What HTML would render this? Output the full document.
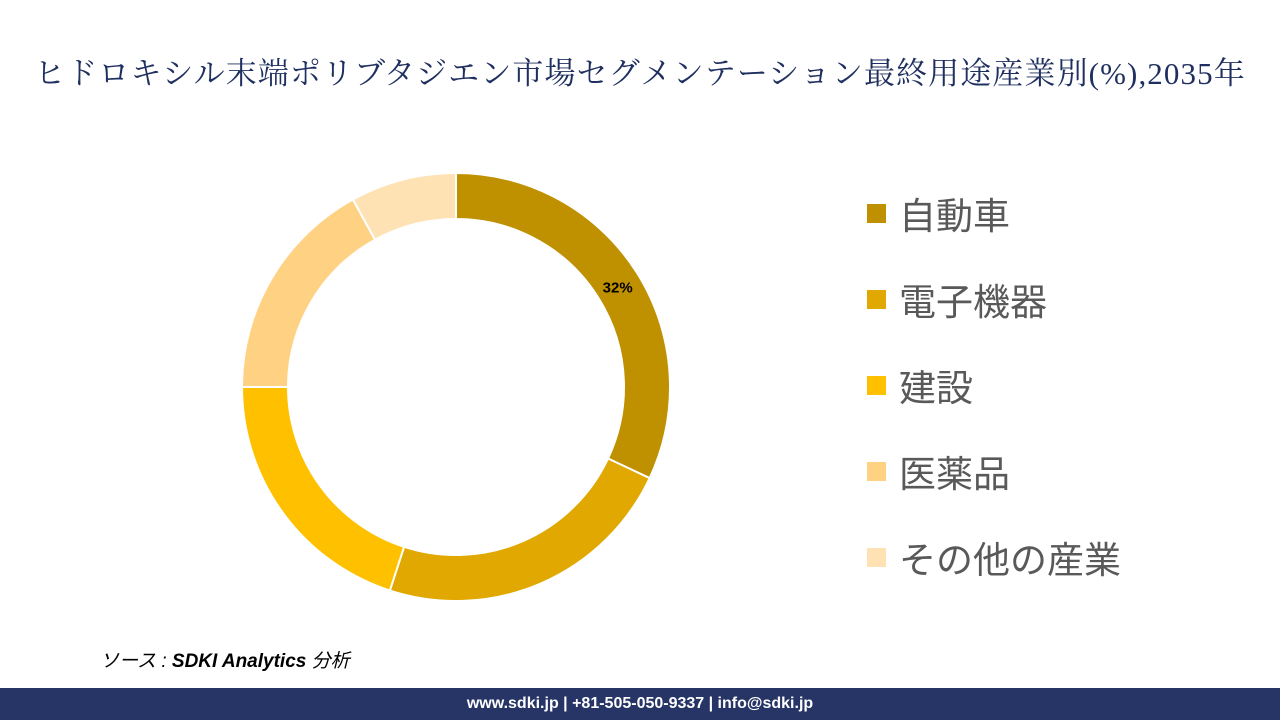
<!DOCTYPE html>
<html><head><meta charset="utf-8"><style>
body{margin:0;width:1280px;height:720px;background:#fff;position:relative;overflow:hidden;font-family:"Liberation Sans","Noto Sans CJK JP",sans-serif}
#title{position:absolute;top:48px;left:0;width:1280px;text-align:center;font-family:"Liberation Serif","Noto Serif CJK SC",serif;font-size:31px;color:#1F2F5F;letter-spacing:1.1px;white-space:nowrap}
.leg{position:absolute;left:867px;font-size:37px;color:#595959;display:flex;align-items:center}
.sw{width:19px;height:19px;margin-right:13px}
#src{position:absolute;left:100px;top:646px;font-size:19px;font-style:italic;color:#000}
#footer{position:absolute;left:0;top:688px;width:1280px;height:32px;background:#263466;color:#fff;font-weight:bold;font-size:16px;text-align:center;line-height:32px}
</style></head><body>
<div id="title">ヒドロキシル末端ポリブタジエン市場セグメンテーション最終用途産業別(%),2035年</div>
<svg id="chart" width="1280" height="720" style="position:absolute;left:0;top:0"></svg>
<div id="legend"></div>
<div id="src">ソース : <b>SDKI Analytics</b> 分析</div>
<div id="footer">www.sdki.jp | +81-505-050-9337 | info@sdki.jp</div>
<script>
const categories=["自動車","電子機器","建設","医薬品","その他の産業"];
const values=[32,23,20,17,8];
const colors=["#BF9000","#E0A800","#FFC000","#FFD183","#FFE2B4"];
const cx=456,cy=387,R=214,r=168;
const svg=document.getElementById('chart');
const ns="http://www.w3.org/2000/svg";
const total=values.reduce((a,b)=>a+b,0);
function pt(rad,a){return [cx+rad*Math.sin(a),cy-rad*Math.cos(a)];}
let acc=0;
values.forEach((v,i)=>{
 const a0=acc/total*2*Math.PI;acc+=v;const a1=acc/total*2*Math.PI;
 const large=(a1-a0)>Math.PI?1:0;
 const [x0,y0]=pt(R,a0),[x1,y1]=pt(R,a1),[x2,y2]=pt(r,a1),[x3,y3]=pt(r,a0);
 const p=document.createElementNS(ns,'path');
 p.setAttribute('d',`M${x0},${y0}A${R},${R} 0 ${large} 1 ${x1},${y1}L${x2},${y2}A${r},${r} 0 ${large} 0 ${x3},${y3}Z`);
 p.setAttribute('fill',colors[i]);p.setAttribute('stroke','#fff');p.setAttribute('stroke-width','2');
 
 
 svg.appendChild(p);
 if(i===0){
  const am=(a0+a1)/2;const [lx,ly]=pt(r+1,am);
  const t=document.createElementNS(ns,'text');
  t.setAttribute('x',lx+19);t.setAttribute('y',ly-4);t.setAttribute('text-anchor','middle');
  t.setAttribute('font-size','15');t.setAttribute('font-weight','bold');t.setAttribute('font-family','Liberation Sans, sans-serif');
  t.textContent=v+'%';
  
  
  svg.appendChild(t);
 }
});
const lg=document.getElementById('legend');
categories.forEach((c,i)=>{
 const d=document.createElement('div');d.className='leg';d.style.top=(186+i*86)+'px';
 d.innerHTML=`<span class="sw" style="background:${colors[i]}"></span><span>${c}</span>`;
 
 
 lg.appendChild(d);
});
</script>
</body></html>
